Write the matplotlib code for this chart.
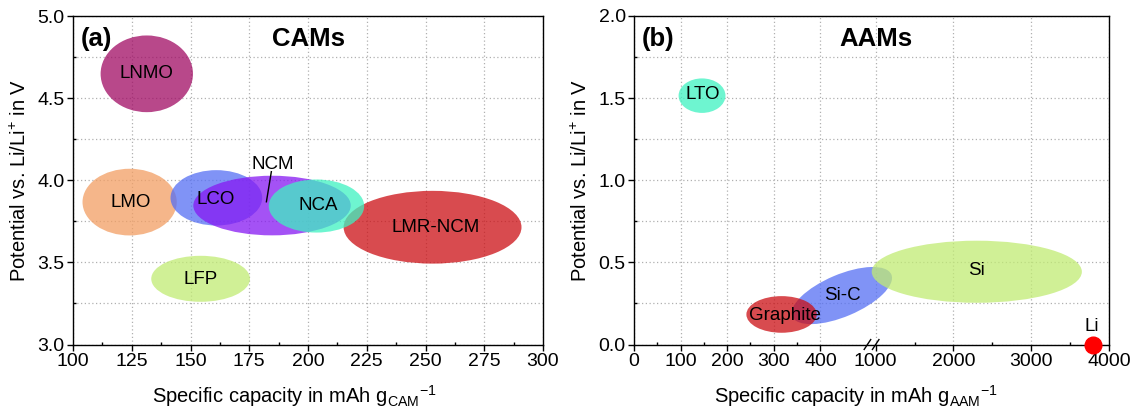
import numpy as np
import matplotlib
matplotlib.use("Agg")
import matplotlib.pyplot as plt
from matplotlib.patches import Ellipse
from matplotlib.transforms import Affine2D
from matplotlib.ticker import MultipleLocator, FixedLocator, FormatStrFormatter

plt.rcParams['font.family'] = ['Liberation Sans', 'DejaVu Sans']
plt.rcParams['mathtext.fontset'] = 'custom'
plt.rcParams['mathtext.rm'] = 'Liberation Sans'
plt.rcParams['mathtext.it'] = 'Liberation Sans:italic'

# ---------------- data: cathode active materials (CAMs) ----------------
cam_names = ["LMR-NCM", "LMO", "LCO", "NCM", "NCA", "LNMO", "LFP"]
cam_cap = [253.0, 124.1, 161.0, 184.7, 203.6, 131.4, 154.3]       # mAh/g centre
cam_cap_w = [75.7, 40.1, 39.0, 67.0, 40.6, 39.3, 42.0]            # mAh/g spread
cam_volt = [3.714, 3.867, 3.893, 3.846, 3.843, 4.648, 3.400]      # V centre
cam_volt_h = [0.443, 0.406, 0.337, 0.363, 0.323, 0.467, 0.280]    # V spread
cam_colors = ["#cc0f14", "#f29e63", "#556ff4", "#8618f2", "#3ef2c1", "#a00a63", "#c1eb73"]
cam_label_cap = [254.1, 124.5, 160.6, 185.2, 204.5, 131.4, 154.2]
cam_label_volt = [3.711, 3.865, 3.885, 4.098, 3.845, 4.651, 3.396]

# ---------------- data: anode active materials (AAMs) ----------------
aam_names = ["Si-C", "Graphite", "Si", "LTO"]
aam_cap = [446.0, 316.7, 2300.0, 146.0]
aam_w = [231.0, 151.0, 451.0, 100.6]       # spread in broken-axis units
aam_volt = [0.298, 0.183, 0.443, 1.515]
aam_volt_h = [0.256, 0.223, 0.378, 0.210]
aam_angle = [23.0, 0.0, 0.0, 0.0]
aam_colors = ["#556ff4", "#cc0f14", "#c1eb73", "#3ef2c1"]
aam_label_cap = [448.0, 323.8, 2295.0, 147.0]
aam_label_volt = [0.300, 0.179, 0.449, 1.520]
li_cap = [3790.0]
li_volt = [0.0]

aam_ticks = [0, 100, 200, 300, 400, 1000, 2000, 3000, 4000]
aam_minor = [50, 150, 250, 350, 1500, 2500, 3500]

# broken-axis mapping for anode capacities
U1000 = 518.7
SLOPE = 0.1669
def u_of(c):
    c = np.asarray(c, dtype=float)
    return np.where(c <= 500, c,
                    np.where(c < 1000, 500 + (c - 500) * (U1000 - 500) / 500,
                             U1000 + (c - 1000) * SLOPE))

W, H = 1130, 415
fig = plt.figure(figsize=(W / 100, H / 100), dpi=100)
axL = fig.add_axes([73 / W, 1 - 344.5 / H, 470 / W, 328.5 / H])
axR = fig.add_axes([634 / W, 1 - 344.5 / H, 475 / W, 328.5 / H])

TICK_FS = 14
LAB_FS = 14.5
ANN_FS = 13.5
TITLE_FS = 18.5

def style_axes(ax):
    for s in ax.spines.values():
        s.set_linewidth(1.0)
        s.set_color('black')
    ax.tick_params(which='major', direction='out', length=4.5, width=1.0,
                   labelsize=TICK_FS, pad=1.5)
    ax.tick_params(which='minor', direction='in', length=2.5, width=1.0)
    ax.grid(True, which='major', axis='x', color='#b0b0b0', linestyle=(0, (1, 2)), linewidth=0.9)
    ax.grid(True, which='both', axis='y', color='#b0b0b0', linestyle=(0, (1, 2)), linewidth=0.9)
    ax.set_axisbelow(True)

def add_ellipse(ax, cx, cy, w, h, angle, color, xr, yr, z):
    bb = ax.get_position()
    kx = bb.width * W / (xr[1] - xr[0])
    ky = bb.height * H / (yr[1] - yr[0])
    tr = Affine2D().scale(1 / kx, 1 / ky) + ax.transData
    e = Ellipse((cx * kx, cy * ky), w * kx, h * ky, angle=angle,
                facecolor=color, edgecolor='none', alpha=0.75, transform=tr, zorder=z)
    ax.add_patch(e)

# ---------------- left panel ----------------
xrL, yrL = (100, 300), (3.0, 5.0)
axL.set_xlim(*xrL)
axL.set_ylim(*yrL)
axL.xaxis.set_major_locator(MultipleLocator(25))
axL.xaxis.set_minor_locator(MultipleLocator(12.5))
axL.yaxis.set_major_locator(MultipleLocator(0.5))
axL.yaxis.set_minor_locator(MultipleLocator(0.25))
axL.yaxis.set_major_formatter(FormatStrFormatter('%.1f'))
style_axes(axL)

for i, name in enumerate(cam_names):
    add_ellipse(axL, cam_cap[i], cam_volt[i], cam_cap_w[i], cam_volt_h[i], 0,
                cam_colors[i], xrL, yrL, 2 + i)
for i, name in enumerate(cam_names):
    axL.text(cam_label_cap[i], cam_label_volt[i], name, ha='center', va='center',
             fontsize=ANN_FS, zorder=20)
axL.plot([184.4, 182.3], [4.052, 3.869], color='black', lw=1.0, zorder=20)

axL.text(109.8, 4.858, "(a)", fontsize=TITLE_FS, fontweight='bold', ha='center', va='center')
axL.text(200.3, 4.858, "CAMs", fontsize=TITLE_FS, fontweight='bold', ha='center', va='center')
axL.set_xlabel(r"Specific capacity in mAh g$_\mathregular{CAM}$$^\mathregular{-1}$", fontsize=LAB_FS)
axL.set_ylabel(r"Potential vs. Li/Li$^\mathregular{+}$ in V", fontsize=LAB_FS)
axL.xaxis.set_label_coords(0.47, -0.118)
axL.yaxis.set_label_coords(-0.092, 0.5)

# ---------------- right panel ----------------
xrR, yrR = (0, float(u_of(4000))), (0.0, 2.0)
axR.set_xlim(*xrR)
axR.set_ylim(*yrR)
axR.xaxis.set_major_locator(FixedLocator(u_of(aam_ticks)))
axR.set_xticklabels([str(t) for t in aam_ticks])
axR.xaxis.set_minor_locator(FixedLocator(u_of(aam_minor)))
axR.yaxis.set_major_locator(MultipleLocator(0.5))
axR.yaxis.set_minor_locator(MultipleLocator(0.25))
axR.yaxis.set_major_formatter(FormatStrFormatter('%.1f'))
style_axes(axR)

for i, name in enumerate(aam_names):
    add_ellipse(axR, float(u_of(aam_cap[i])), aam_volt[i], aam_w[i], aam_volt_h[i],
                aam_angle[i], aam_colors[i], xrR, yrR, 2 + i)
for i, name in enumerate(aam_names):
    axR.text(float(u_of(aam_label_cap[i])), aam_label_volt[i], name, ha='center', va='center',
             fontsize=ANN_FS, zorder=20)
axR.plot(u_of(li_cap), li_volt, 'o', color='#ff0000', markersize=12, clip_on=False, zorder=25)
axR.text(float(u_of(li_cap[0])) - 2, 0.112, "Li", ha='center', va='center', fontsize=ANN_FS, zorder=20)

# axis-break marks
for xb in (501.0, float(u_of(1000))):
    axR.plot([xb - 7, xb + 7], [-0.03, 0.03], color='black', lw=1.0, clip_on=False, zorder=30)

axR.text(51, 1.858, "(b)", fontsize=TITLE_FS, fontweight='bold', ha='center', va='center')
axR.text(518.7, 1.858, "AAMs", fontsize=TITLE_FS, fontweight='bold', ha='center', va='center')
axR.set_xlabel(r"Specific capacity in mAh g$_\mathregular{AAM}$$^\mathregular{-1}$", fontsize=LAB_FS)
axR.set_ylabel(r"Potential vs. Li/Li$^\mathregular{+}$ in V", fontsize=LAB_FS)
axR.xaxis.set_label_coords(0.467, -0.118)
axR.yaxis.set_label_coords(-0.090, 0.5)

fig.savefig("out.png", dpi=100)
